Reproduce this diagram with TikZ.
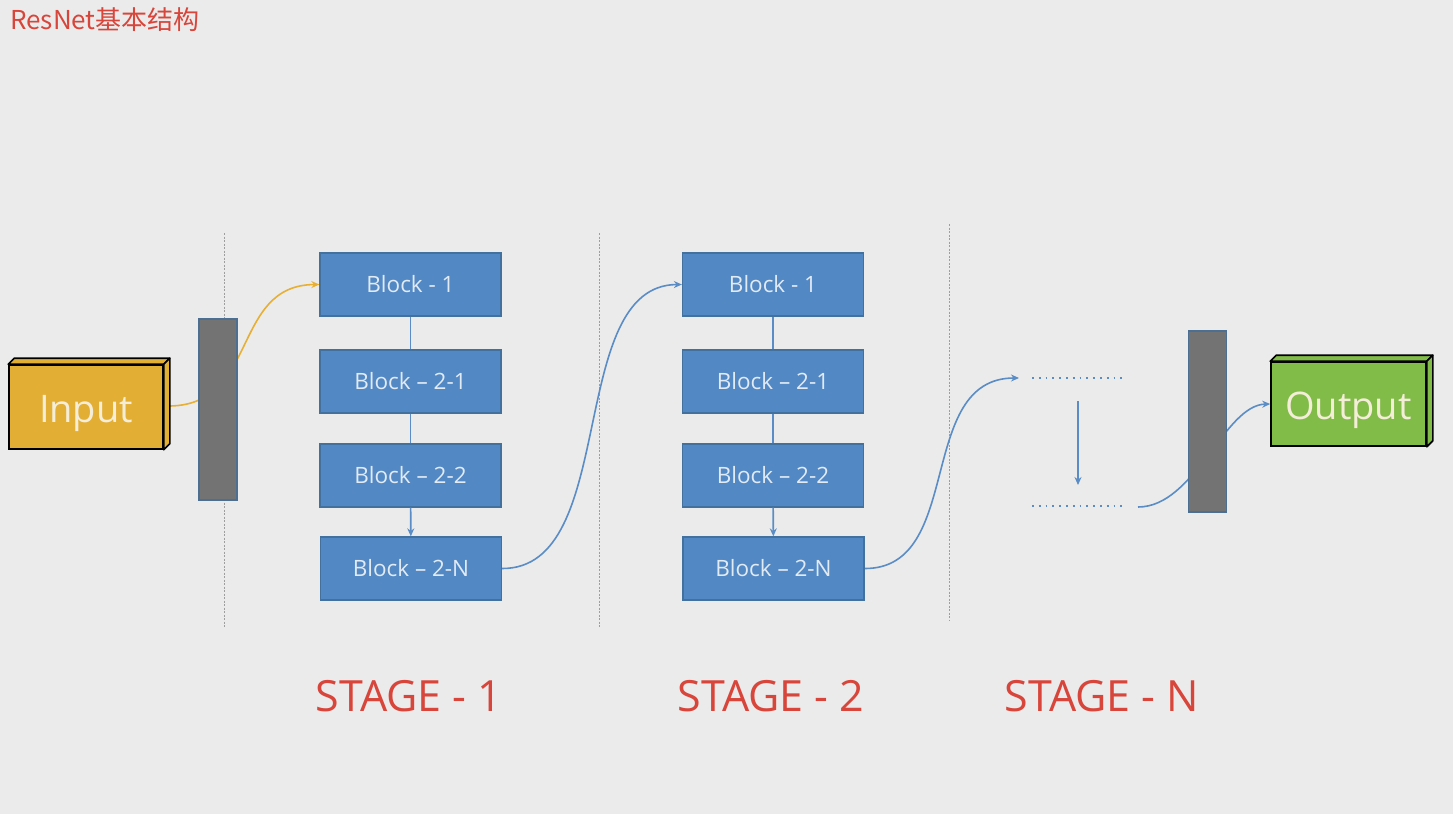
\documentclass[tikz,border=0pt]{standalone}
\usepackage{fontspec}
\setmainfont{Open Sans}
\newfontfamily\cjkfont{Noto Sans CJK SC}
\usetikzlibrary{arrows.meta}

\definecolor{bgc}{HTML}{EBEBEB}
\definecolor{blockfill}{HTML}{5288C4}
\definecolor{blockline}{HTML}{41719C}
\definecolor{blocktext}{HTML}{E2EAF4}
\definecolor{linkblue}{HTML}{5A8CC6}
\definecolor{inputfill}{HTML}{E3AE34}
\definecolor{linkyellow}{HTML}{E8B033}
\definecolor{outputfill}{HTML}{80BC47}
\definecolor{barfill}{HTML}{737373}
\definecolor{barline}{HTML}{4C6E92}
\definecolor{sepgray}{HTML}{9E9E9E}
\definecolor{titlered}{HTML}{D8453A}
\definecolor{boxtext}{HTML}{F4EDD8}

\pgfdeclarelayer{back}
\pgfdeclarelayer{links}
\pgfsetlayers{back,links,main}

% box label whose baseline sits 15pt below the box centre
\newcommand{\boxlabel}[1]{\raisebox{-15pt}[0pt][0pt]{#1}}

\tikzset{
  blk/.style={rectangle, fill=blockfill, draw=blockline, line width=1.3pt,
    minimum width=181pt, minimum height=63pt, inner sep=0pt, text=blocktext,
    font=\fontsize{22.5}{26}\selectfont},
  bar/.style={rectangle, fill=barfill, draw=barline, line width=1.3pt,
    minimum width=38pt, minimum height=181pt, inner sep=0pt},
  facebox/.style={rectangle, draw=black, line width=1.6pt, inner sep=0pt,
    minimum width=154pt, minimum height=84pt, text=boxtext,
    font=\fontsize{38}{42}\selectfont},
  sep/.style={draw=sepgray, line width=1pt, dash pattern=on 2pt off 1.5pt},
  link/.style={draw=linkblue, line width=1.6pt},
  tip/.style={-{Stealth[length=8pt,width=7pt]}},
  dotline/.style={draw=linkblue, line width=1.8pt, dash pattern=on 1.8pt off 5pt},
  stagelbl/.style={text=titlered, font=\fontsize{43}{48}\selectfont},
}

\begin{document}
\begin{tikzpicture}[x=1pt,y=-1pt]
\useasboundingbox (0,0) rectangle (1453,814);

% title
\node[anchor=west, text=titlered, font=\cjkfont\fontsize{26}{30}\selectfont, inner sep=0pt]
  (title) at (10,20) {ResNet基本结构};

% input and output boxes (front faces)
\node[facebox, fill=inputfill] (in) at (86,407) {\boxlabel{Input}};
\node[facebox, fill=outputfill, minimum width=155pt] (out) at (1348.5,404) {\boxlabel{Output}};

% depth faces of the two boxes
\foreach \b/\c in {in/inputfill, out/outputfill}{
  \filldraw[fill=\c, draw=black, line width=1.6pt, line join=round]
    (\b.north west) -- ++(6,-6) -- ([shift={(6,-6)}]\b.north east) -- (\b.north east) -- cycle;
  \filldraw[fill=\c, draw=black, line width=1.6pt, line join=round]
    (\b.north east) -- ++(6,-6) -- ([shift={(6,-6)}]\b.south east) -- (\b.south east) -- cycle;
}

% projection bars
\node[bar] (bar1) at (218,409.5) {};
\node[bar] (bar2) at (1207.5,421.5) {};

% stage 1 blocks
\node[blk] (a1) at (410.5,284.5) {Block - 1};
\node[blk] (a2) at (410.5,381.5) {Block – 2-1};
\node[blk] (a3) at (410.5,475.5) {Block – 2-2};
\node[blk] (a4) at (411,568.5)   {Block – 2-N};

% stage 2 blocks
\node[blk] (b1) at (773,284.5) {Block - 1};
\node[blk] (b2) at (773,381.5) {Block – 2-1};
\node[blk] (b3) at (773,475.5) {Block – 2-2};
\node[blk] (b4) at (773.5,568.5) {Block – 2-N};

% stage N placeholder
\coordinate (n1a) at (1032,378);
\coordinate (n1b) at (1126,378);
\coordinate (n2a) at (1032,506);
\coordinate (n2b) at (1126,506);
\coordinate (dn1) at (1078,401);
\coordinate (dn2) at (1078,485);
\coordinate (nin) at (1019,378);
\coordinate (nout) at (1138,507);
\draw[dotline] (n1a) -- (n1b);
\draw[dotline] (n2a) -- (n2b);
\draw[link, tip] (dn1) -- (dn2);

% stage labels
\node[stagelbl] (s1) at (409,696) {STAGE - 1};
\node[stagelbl] (s2) at (771,696) {STAGE - 2};
\node[stagelbl] (sn) at (1102,696) {STAGE - N};

% links inside the stages
\draw[link] (a1) -- (a2);
\draw[link] (a2) -- (a3);
\draw[link, tip] (a3) -- (a4);
\draw[link] (b1) -- (b2);
\draw[link] (b2) -- (b3);
\draw[link, tip] (b3) -- (b4);

\begin{pgfonlayer}{back}
  \fill[bgc] (0,0) rectangle (1453,814);
  \draw[sep] (224,233) -- (224,628);
  \draw[sep] (599,233) -- (599,628);
  \draw[sep] (949,224) -- (949,620);
\end{pgfonlayer}

\begin{pgfonlayer}{links}
  \draw[draw=linkyellow, line width=1.6pt, tip]
    ([xshift=2pt,yshift=1pt]in.east) .. controls (260,408) and (230,285) .. (a1.west);
  \draw[link, tip] (a4.east) .. controls (620,569) and (565,285) .. (b1.west);
  \draw[link, tip] (b4.east) .. controls (965,569) and (915,378) .. (nin);
  \draw[link, tip] (nout) .. controls (1195,507) and (1224,405) .. (out.west);
\end{pgfonlayer}
\end{tikzpicture}
\end{document}
